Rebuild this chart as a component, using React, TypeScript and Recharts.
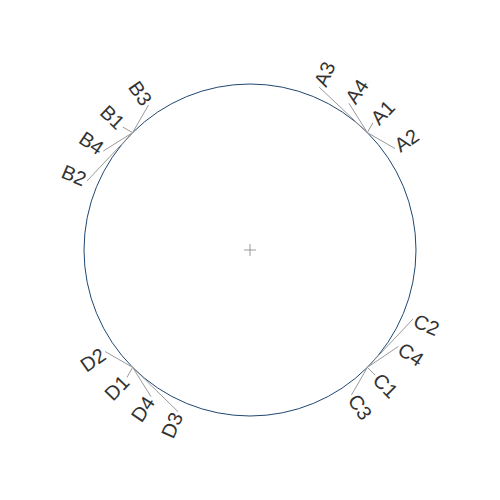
import React from 'react';
import { ScatterChart, Scatter, XAxis, YAxis, ReferenceDot } from 'recharts';

// Group (parent) nodes sit on the circle
const parentNames = ['A', 'B', 'C', 'D'];
const parentAngles = [45, 135, -45, 225];

// Leaf nodes (degrees, counter-clockwise from 3 o'clock)
const leafNames = ['A3', 'A4', 'A1', 'A2', 'B3', 'B1', 'B4', 'B2', 'C2', 'C4', 'C1', 'C3', 'D2', 'D1', 'D4', 'D3'];
const leafParents = ['A', 'A', 'A', 'A', 'B', 'B', 'B', 'B', 'C', 'C', 'C', 'C', 'D', 'D', 'D', 'D'];
const leafAngles = [67, 56, 46, 35, 125, 136, 146, 157, -23, -33, -45, -55, 215, 226, 236, 246];
const leafRadius = 1.066;
const circleRadius = 1;

const W = 500;
const H = 500;
const R_PX = 166;
const SPAN = W / 2 / R_PX;

const rad = (d: number) => (d * Math.PI) / 180;
const polar = (angle: number, r: number) => ({ x: r * Math.cos(rad(angle)), y: r * Math.sin(rad(angle)) });

const parents = parentNames.map((name, i) => ({ name, angle: parentAngles[i], ...polar(parentAngles[i], circleRadius) }));
const leaves = leafNames.map((name, i) => ({
  name,
  parent: leafParents[i],
  angle: leafAngles[i],
  ...polar(leafAngles[i], leafRadius),
}));

const segments = leaves.map((l) => {
  const p = parents.find((q) => q.name === l.parent)!;
  return { key: l.name, data: [{ x: p.x, y: p.y }, { x: l.x, y: l.y }] };
});

const LeafLabel = (props: any) => {
  const { cx, cy, payload } = props;
  if (cx == null || cy == null) return <g />;
  const a = payload.angle;
  const norm = ((a % 360) + 360) % 360;
  const right = norm < 90 || norm > 270;
  const rot = right ? -a : 180 - a;
  const off = 2;
  return (
    <text
      x={cx}
      y={cy}
      dx={right ? off : -off}
      transform={`rotate(${rot}, ${cx}, ${cy})`}
      textAnchor={right ? 'start' : 'end'}
      dominantBaseline="central"
      fontSize={20}
      fontFamily="Liberation Sans, Arial, sans-serif"
      fill="#333"
    >
      {payload.name}
    </text>
  );
};

const CenterCross = (props: any) => {
  const { cx, cy } = props;
  if (cx == null || cy == null) return <g />;
  return (
    <g stroke="#999" strokeWidth={1}>
      <line x1={cx - 6} y1={cy} x2={cx + 6} y2={cy} />
      <line x1={cx} y1={cy - 6} x2={cx} y2={cy + 6} />
    </g>
  );
};

const Empty = () => <g />;

export default function App() {
  return (
    <div style={{ position: 'absolute', left: 0, top: 0, width: W, height: H, background: '#fff' }}>
      <ScatterChart width={W} height={H} margin={{ top: 0, right: 0, bottom: 0, left: 0 }}>
        <XAxis type="number" dataKey="x" domain={[-SPAN, SPAN]} hide allowDataOverflow />
        <YAxis type="number" dataKey="y" domain={[-SPAN, SPAN]} hide allowDataOverflow />
        <ReferenceDot x={0} y={0} r={R_PX} fill="none" stroke="#1f4770" strokeWidth={1} ifOverflow="visible" />
        {segments.map((s) => (
          <Scatter
            key={s.key}
            data={s.data}
            line={{ stroke: '#9a9a9a', strokeWidth: 1 }}
            shape={<Empty />}
            isAnimationActive={false}
          />
        ))}
        <Scatter data={leaves} shape={<LeafLabel />} isAnimationActive={false} />
        <Scatter data={[{ x: 0, y: 0 }]} shape={<CenterCross />} isAnimationActive={false} />
      </ScatterChart>
    </div>
  );
}
